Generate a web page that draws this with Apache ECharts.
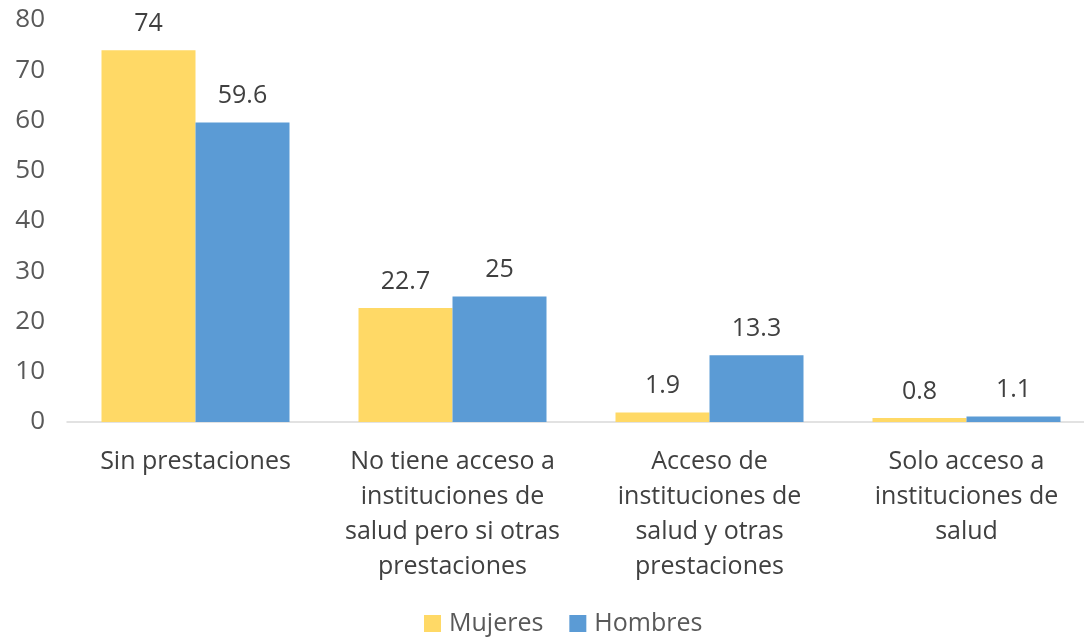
<!DOCTYPE html>
<html>
<head>
<meta charset="utf-8">
<script src="https://cdn.jsdelivr.net/npm/echarts@6/dist/echarts.min.js"></script>
<style>
  html, body { margin: 0; padding: 0; background: #fff; }
  #chart { width: 1084px; height: 641px; }
</style>
</head>
<body>
<div id="chart"></div>
<script>
// categorías del eje x
const categorias = [
  'Sin prestaciones',
  'No tiene acceso a\ninstituciones de\nsalud pero si otras\nprestaciones',
  'Acceso de\ninstituciones de\nsalud y otras\nprestaciones',
  'Solo acceso a\ninstituciones de\nsalud'
];
const mujeres = [74, 22.7, 1.9, 0.8];
const hombres = [59.6, 25, 13.3, 1.1];

const fuente = '"Open Sans", "Noto Sans", sans-serif';

const chart = echarts.init(document.getElementById('chart'));

const etiqueta = {
  show: true,
  position: 'top',
  distance: 14,
  color: '#404040',
  fontSize: 25,
  fontFamily: fuente
};

chart.setOption({
  animation: false,
  textStyle: { fontFamily: fuente },
  grid: { left: 67, width: 1028, top: 20, bottom: 219, outerBoundsMode: 'none' },
  legend: {
    bottom: 0,
    left: 419,
    itemWidth: 17,
    itemHeight: 17,
    itemGap: 26,
    icon: 'rect',
    textStyle: { fontSize: 25, color: '#595959', fontFamily: fuente, padding: [0, 0, 0, 3] },
    data: ['Mujeres', 'Hombres']
  },
  xAxis: {
    type: 'category',
    data: categorias,
    axisTick: { show: false },
    axisLine: { lineStyle: { color: '#d9d9d9', width: 1.5 } },
    axisLabel: {
      interval: 0,
      color: '#404040',
      fontSize: 25,
      lineHeight: 35,
      margin: 22,
      fontFamily: fuente
    }
  },
  yAxis: {
    type: 'value',
    min: 0,
    max: 80,
    interval: 10,
    splitLine: { show: false },
    axisLine: { show: false },
    axisTick: { show: false },
    axisLabel: { color: '#595959', fontSize: 26, margin: 22, fontFamily: fuente }
  },
  series: [
    {
      name: 'Mujeres',
      type: 'bar',
      data: mujeres,
      barWidth: 94,
      barGap: '0%',
      itemStyle: { color: '#ffd966' },
      label: etiqueta
    },
    {
      name: 'Hombres',
      type: 'bar',
      data: hombres,
      barWidth: 94,
      itemStyle: { color: '#5b9bd5' },
      label: etiqueta
    }
  ]
});
</script>
</body>
</html>
